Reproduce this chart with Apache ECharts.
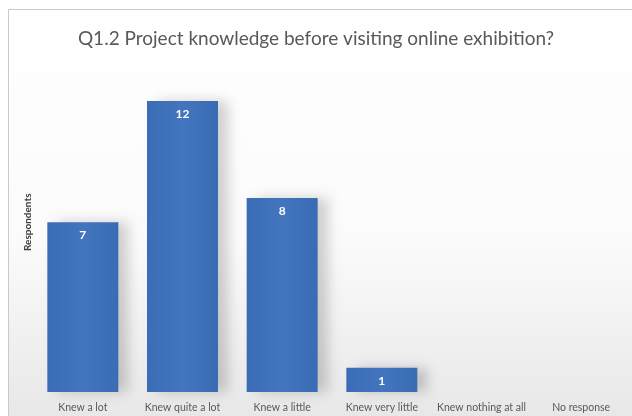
<!DOCTYPE html>
<html><head><meta charset="utf-8">
<script src="https://cdn.jsdelivr.net/npm/echarts@6/dist/echarts.min.js"></script>
<style>html,body{margin:0;padding:0;background:#fff}#c{width:632px;height:416px}</style>
</head><body><div id="c"></div>
<script>
const categories = ['Knew a lot','Knew quite a lot','Knew a little','Knew very little','Knew nothing at all','No response'];
const respondents = [7, 12, 8, 1, 0, 0];
const titleText = 'Q1.2 Project knowledge before visiting online exhibition?';
const yAxisName = 'Respondents';

const chart = echarts.init(document.getElementById('c'));
chart.setOption({
  backgroundColor: '#ffffff',
  animation: false,
  graphic: [{
    type: 'rect', z: -10, silent: true,
    shape: {x: 8.5, y: 9.5, width: 640, height: 420},
    style: {
      stroke: '#c9c9c9', lineWidth: 1,
      fill: new echarts.graphic.LinearGradient(0, 0, 0, 1, [
        {offset: 0, color: '#ffffff'},
        {offset: 0.55, color: '#fbfbfb'},
        {offset: 1, color: '#e6e6e6'}
      ])
    }
  }],
  title: {
    text: titleText, left: 'center', top: 24,
    textStyle: {fontFamily: 'Lato', fontSize: 19, fontWeight: 'normal', color: '#595959'}
  },
  grid: {left: 33, right: 1, top: 52.5, bottom: 24, containLabel: false},
  xAxis: {
    type: 'category', data: categories,
    axisLine: {show: false}, axisTick: {show: false},
    axisLabel: {fontFamily: 'Lato', fontSize: 10.5, color: '#595959', margin: 10, interval: 0}
  },
  yAxis: {
    type: 'value', min: 0, max: 14,
    name: yAxisName, nameLocation: 'middle', nameGap: 0, nameRotate: 90,
    nameTextStyle: {fontFamily: 'Lato', fontSize: 10, fontWeight: 'bold', color: '#404040'},
    axisLine: {show: false}, axisTick: {show: false}, axisLabel: {show: false}, splitLine: {show: false}
  },
  series: [{
    type: 'bar', data: respondents, barWidth: 71,
    itemStyle: {
      color: new echarts.graphic.LinearGradient(0, 0, 1, 0, [
        {offset: 0, color: '#3a6db6'},
        {offset: 0.5, color: '#4275be'},
        {offset: 1, color: '#3a6cb4'}
      ]),
      shadowColor: 'rgba(0,0,0,0.18)', shadowBlur: 12, shadowOffsetX: 10, shadowOffsetY: 0
    },
    label: {
      show: true, position: 'insideTop', distance: 7,
      fontFamily: 'Lato', fontSize: 12, fontWeight: 'bold', color: '#ffffff',
      formatter: p => p.value > 0 ? p.value : ''
    }
  }]
});
</script></body></html>
